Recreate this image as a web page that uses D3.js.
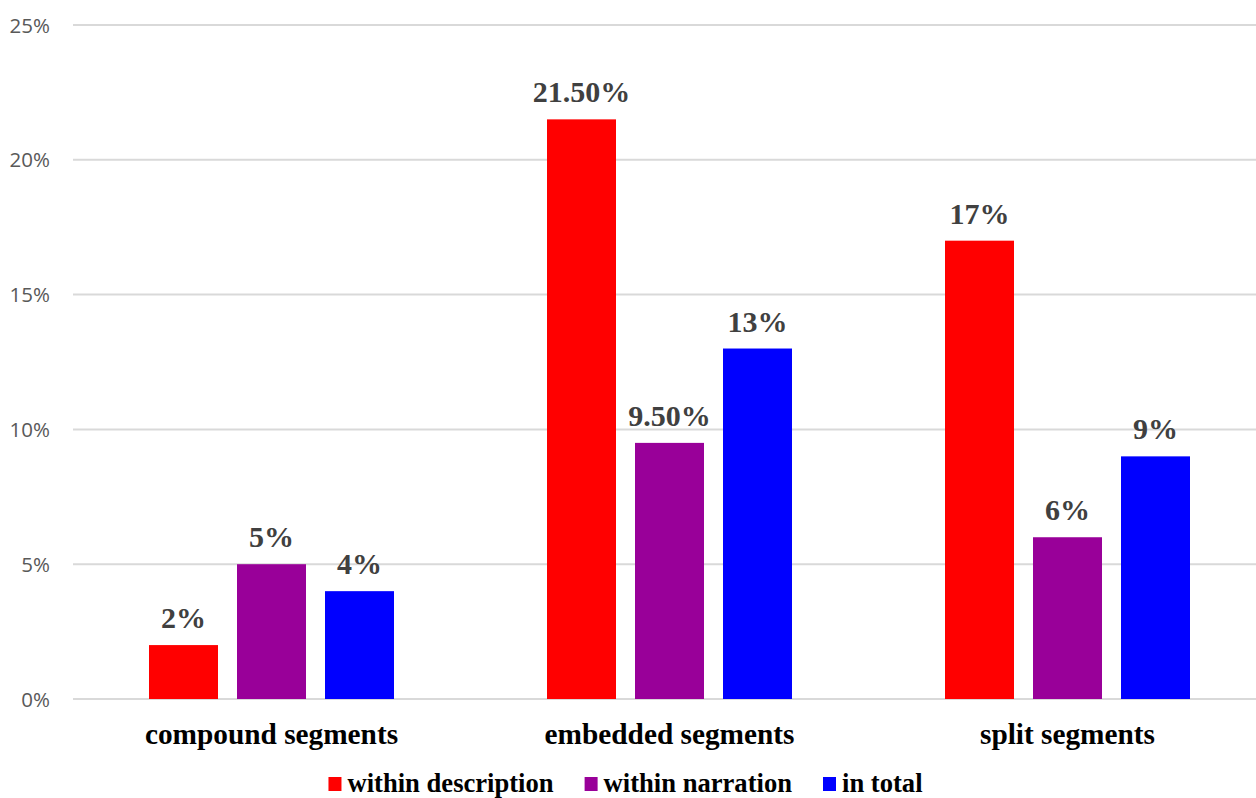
<!DOCTYPE html>
<html>
<head>
<meta charset="utf-8">
<script src="https://cdn.jsdelivr.net/npm/d3@7/dist/d3.min.js"></script>
<style>
  html, body { margin: 0; padding: 0; background: #fff; }
  svg { display: block; }
</style>
</head>
<body>
<svg id="chart" width="1256" height="798"></svg>
<script>
// Segment types along the x axis
const categories = ["compound segments", "embedded segments", "split segments"];
// Series shown in each group
const seriesNames = ["within description", "within narration", "in total"];
const seriesColors = ["#ff0000", "#990099", "#0000ff"];
// Percentages per series, one value per category
const withinDescription = [2, 21.5, 17];
const withinNarration = [5, 9.5, 6];
const inTotal = [4, 13, 9];
// Data labels as printed above each bar
const withinDescriptionLabels = ["2%", "21.50%", "17%"];
const withinNarrationLabels = ["5%", "9.50%", "6%"];
const inTotalLabels = ["4%", "13%", "9%"];
// Y axis ticks
const yTicks = [0, 5, 10, 15, 20, 25];
const yTickLabels = ["0%", "5%", "10%", "15%", "20%", "25%"];

const seriesValues = [withinDescription, withinNarration, inTotal];
const seriesLabels = [withinDescriptionLabels, withinNarrationLabels, inTotalLabels];

const svg = d3.select("#chart");
const W = 1256;
const serif = "'Liberation Serif', 'Times New Roman', serif";

const x0 = d3.scaleBand().domain(categories).range([72.5, 1266.5]).paddingInner(0).paddingOuter(0);
const x1 = d3.scaleBand().domain(seriesNames).range([76.5, 321.5]).paddingInner(19 / 88).paddingOuter(0);
const y = d3.scaleLinear().domain([0, 25]).range([699, 25]);

// Horizontal gridlines
svg.append("g")
  .selectAll("line")
  .data(yTicks)
  .join("line")
  .attr("x1", 73).attr("x2", W)
  .attr("y1", d => y(d)).attr("y2", d => y(d))
  .attr("stroke", "#d9d9d9")
  .attr("stroke-width", 2);

// Y axis tick labels
const yAxis = d3.axisLeft(y).tickValues(yTicks).tickSize(0).tickPadding(0)
  .tickFormat((d, i) => yTickLabels[i]);
const yg = svg.append("g").attr("transform", "translate(50,0)").call(yAxis);
yg.select(".domain").remove();
yg.selectAll("text")
  .attr("fill", "#595959")
  .attr("font-family", "'Open Sans', 'Liberation Sans', sans-serif")
  .attr("font-size", 20.5)
  .attr("dy", "0.35em");

// Bars and value labels
const rows = [];
categories.forEach((c, ci) => {
  seriesNames.forEach((s, si) => {
    rows.push({ cat: c, series: s, si, value: seriesValues[si][ci], label: seriesLabels[si][ci] });
  });
});

const groups = svg.append("g")
  .selectAll("g")
  .data(categories)
  .join("g")
  .attr("transform", d => `translate(${x0(d)},0)`);

groups.selectAll("rect")
  .data(c => rows.filter(r => r.cat === c))
  .join("rect")
  .attr("x", d => x1(d.series))
  .attr("width", x1.bandwidth())
  .attr("y", d => y(d.value))
  .attr("height", d => y(0) - y(d.value))
  .attr("fill", d => seriesColors[d.si]);

groups.selectAll("text")
  .data(c => rows.filter(r => r.cat === c))
  .join("text")
  .attr("x", d => x1(d.series) + x1.bandwidth() / 2)
  .attr("y", d => y(d.value) - 17)
  .attr("text-anchor", "middle")
  .attr("fill", "#404040")
  .attr("font-family", serif)
  .attr("font-weight", "bold")
  .attr("font-size", 30)
  .text(d => d.label);

// Category labels
const xAxis = d3.axisBottom(x0).tickSize(0).tickPadding(0);
const xg = svg.append("g").attr("transform", "translate(0,744)").call(xAxis);
xg.select(".domain").remove();
xg.selectAll("text")
  .attr("dy", 0)
  .attr("fill", "#000")
  .attr("font-family", serif)
  .attr("font-weight", "bold")
  .attr("font-size", 29.3);

// Legend
const legend = svg.append("g");
const items = legend.selectAll("g")
  .data(seriesNames)
  .join("g");
items.append("rect")
  .attr("width", 13).attr("height", 14)
  .attr("y", 777)
  .attr("fill", (d, i) => seriesColors[i]);
items.append("text")
  .attr("x", 19)
  .attr("y", 792)
  .attr("fill", "#000")
  .attr("font-family", serif)
  .attr("font-weight", "bold")
  .attr("font-size", 26.6)
  .text(d => d);

let widths = [];
items.each(function () {
  widths.push(d3.select(this).select("text").node().getComputedTextLength() + 19);
});
const gap = 31;
const total = d3.sum(widths) + gap * (widths.length - 1);
let cx = 625.5 - total / 2;
items.each(function (d, i) {
  d3.select(this).attr("transform", `translate(${cx},0)`);
  cx += widths[i] + gap;
});
</script>
</body>
</html>
